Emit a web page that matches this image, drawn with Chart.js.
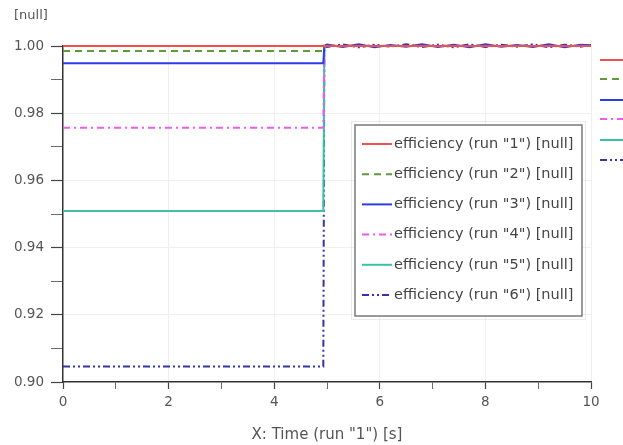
<!DOCTYPE html>
<html>
<head>
<meta charset="utf-8">
<script src="https://cdn.jsdelivr.net/npm/chart.js@4/dist/chart.umd.min.js"></script>
<style>
  html, body { margin: 0; padding: 0; background: #fff; }
  #wrap { width: 623px; height: 445px; }
</style>
</head>
<body>
<div id="wrap"><canvas id="effChart"></canvas></div>
<script>
// Data
const stepTimes = [0, 4.93, 4.95, 10];
const run1 = [1.0, 1.0, 1.0, 1.0];
const run2 = [0.9985, 0.9985, 1.0, 1.0];
const run3 = [0.9949, 0.9949, 1.0, 1.0];
const run4 = [0.9757, 0.9757, 1.0, 1.0];
const run5 = [0.9509, 0.9509, 1.0, 1.0];
const run6 = [0.9046, 0.9046, 1.0, 1.0];

// noise after the step (blue + navy traces near 1.00)
const noiseTimes = [5.0, 5.3, 5.6, 5.9, 6.2, 6.5, 6.8, 7.1, 7.4, 7.7, 8.0, 8.3, 8.6, 8.9, 9.2, 9.5, 9.8, 10.0];
const noise3 = [1.0004, 0.9997, 1.0005, 0.9996, 1.0003, 0.9998, 1.0005, 0.9997, 1.0004, 0.9996, 1.0005, 0.9998, 1.0003, 0.9997, 1.0005, 0.9996, 1.0004, 1.0002];
const noise6 = [0.9997, 1.0005, 0.9996, 1.0004, 0.9998, 1.0005, 0.9997, 1.0004, 0.9996, 1.0005, 0.9997, 1.0004, 0.9998, 1.0005, 0.9996, 1.0004, 0.9998, 1.0003];

const xTicks = [0, 2, 4, 6, 8, 10];
const yTicks = [0.90, 0.92, 0.94, 0.96, 0.98, 1.00];

const runNames = ['1', '2', '3', '4', '5', '6'];
const runColors = ['#f0504a', '#5e9c3a', '#2b3ee6', '#ee5bee', '#3fbfa6', '#3434a8'];
const runDashes = [[], [7, 5], [], [7, 4, 2, 4], [], [7, 3, 2, 3, 2, 3]];

function toPoints(times, vals) {
    return times.map((t, i) => ({ x: t, y: vals[i] }));
}

const series = [
    toPoints(stepTimes, run1),
    toPoints(stepTimes, run2),
    toPoints(stepTimes.slice(0, 3), run3.slice(0, 3)).concat(toPoints(noiseTimes, noise3)),
    toPoints(stepTimes, run4),
    toPoints(stepTimes, run5),
    toPoints(stepTimes.slice(0, 3), run6.slice(0, 3)).concat(toPoints(noiseTimes, noise6))
];

const FONT = 'DejaVu Sans';

// Legend drawn inside the plot, plus the cut-off samples on the right edge
const boxLegend = {
    id: 'boxLegend',
    afterDraw(chart) {
        const ctx = chart.ctx;
        const x0 = 355, y0 = 125, w = 227, h = 191;
        ctx.save();
        ctx.fillStyle = '#fff';
        ctx.fillRect(x0, y0, w, h);
        ctx.strokeStyle = '#d6d6d6';
        ctx.lineWidth = 1;
        ctx.setLineDash([1, 1]);
        ctx.strokeRect(x0 - 3.5, y0 - 3.5, w + 7, h + 7);
        ctx.setLineDash([]);
        ctx.strokeStyle = '#7a7a7a';
        ctx.lineWidth = 1.5;
        ctx.strokeRect(x0, y0, w, h);
        ctx.font = '14.5px "' + FONT + '"';
        ctx.textBaseline = 'middle';
        ctx.fillStyle = '#444';
        chart.data.datasets.forEach((ds, i) => {
            const y = y0 + 19 + i * 30.2;
            ctx.strokeStyle = ds.borderColor;
            ctx.lineWidth = 2;
            ctx.setLineDash(ds.borderDash);
            ctx.beginPath();
            ctx.moveTo(x0 + 7, y);
            ctx.lineTo(x0 + 37, y);
            ctx.stroke();
            ctx.setLineDash([]);
            ctx.fillText(ds.label, x0 + 39, y);
        });
        // samples of a second legend, cut off by the right edge
        const sideY = [60, 79, 100, 119, 140, 160];
        chart.data.datasets.forEach((ds, i) => {
            ctx.strokeStyle = ds.borderColor;
            ctx.lineWidth = 2;
            ctx.setLineDash(ds.borderDash);
            ctx.beginPath();
            ctx.moveTo(600, sideY[i]);
            ctx.lineTo(623, sideY[i]);
            ctx.stroke();
        });
        ctx.setLineDash([]);
        // y unit label
        ctx.fillStyle = '#555';
        ctx.font = '13px "' + FONT + '"';
        ctx.textBaseline = 'middle';
        ctx.fillText('[null]', 14, 16);
        ctx.restore();
    }
};

const ctxEff = document.getElementById('effChart').getContext('2d');
const effChart = new Chart(ctxEff, {
    type: 'line',
    data: {
        datasets: series.map((pts, i) => ({
            label: 'efficiency (run "' + runNames[i] + '") [null]',
            data: pts,
            borderColor: runColors[i],
            backgroundColor: runColors[i],
            borderDash: runDashes[i],
            borderWidth: 2,
            pointRadius: 0,
            tension: 0,
            clip: 6
        }))
    },
    options: {
        responsive: true,
        maintainAspectRatio: false,
        animation: false,
        layout: { padding: { left: 0, top: 46, right: 32, bottom: 0 } },
        plugins: {
            legend: { display: false },
            tooltip: { enabled: false }
        },
        scales: {
            x: {
                type: 'linear',
                min: 0,
                max: 10,
                afterFit: (s) => { s.height = 63; },
                afterBuildTicks: (s) => {
                    s.ticks = [0, 1, 2, 3, 4, 5, 6, 7, 8, 9, 10].map(v => ({ value: v }));
                },
                ticks: {
                    autoSkip: false,
                    maxRotation: 0,
                    padding: 5,
                    color: '#555',
                    font: { family: FONT, size: 13.5 },
                    callback: (v) => xTicks.includes(v) ? String(v) : ''
                },
                grid: {
                    color: (c) => c.tick && xTicks.includes(c.tick.value) && c.tick.value !== 0 ? '#efefef' : 'rgba(0,0,0,0)',
                    tickColor: '#444',
                    tickLength: 7,
                    tickWidth: (c) => c.tick && xTicks.includes(c.tick.value) ? 1.2 : 0.8
                },
                border: { color: '#333', width: 1.5 },
                title: {
                    display: true,
                    text: 'X: Time (run "1") [s]',
                    color: '#555',
                    font: { family: FONT, size: 15 },
                    padding: { top: 0, bottom: 1 }
                }
            },
            y: {
                min: 0.90,
                max: 1.00,
                afterFit: (s) => { s.width = 63; },
                afterBuildTicks: (s) => {
                    const t = [];
                    for (let k = 90; k <= 100; k++) t.push({ value: k / 100 });
                    s.ticks = t;
                },
                ticks: {
                    autoSkip: false,
                    padding: 7,
                    color: '#555',
                    font: { family: FONT, size: 13.5 },
                    callback: (v) => yTicks.some(t => Math.abs(t - v) < 1e-6) ? v.toFixed(2) : ''
                },
                grid: {
                    color: (c) => c.tick && yTicks.some(t => Math.abs(t - c.tick.value) < 1e-6) && c.tick.value > 0.905 && c.tick.value < 0.995 ? '#efefef' : 'rgba(0,0,0,0)',
                    tickColor: '#444',
                    tickLength: 12,
                    tickWidth: (c) => c.tick && yTicks.some(t => Math.abs(t - c.tick.value) < 1e-6) ? 1.2 : 0.8
                },
                border: { color: '#333', width: 1.5 }
            }
        }
    },
    plugins: [boxLegend]
});
</script>
</body>
</html>
